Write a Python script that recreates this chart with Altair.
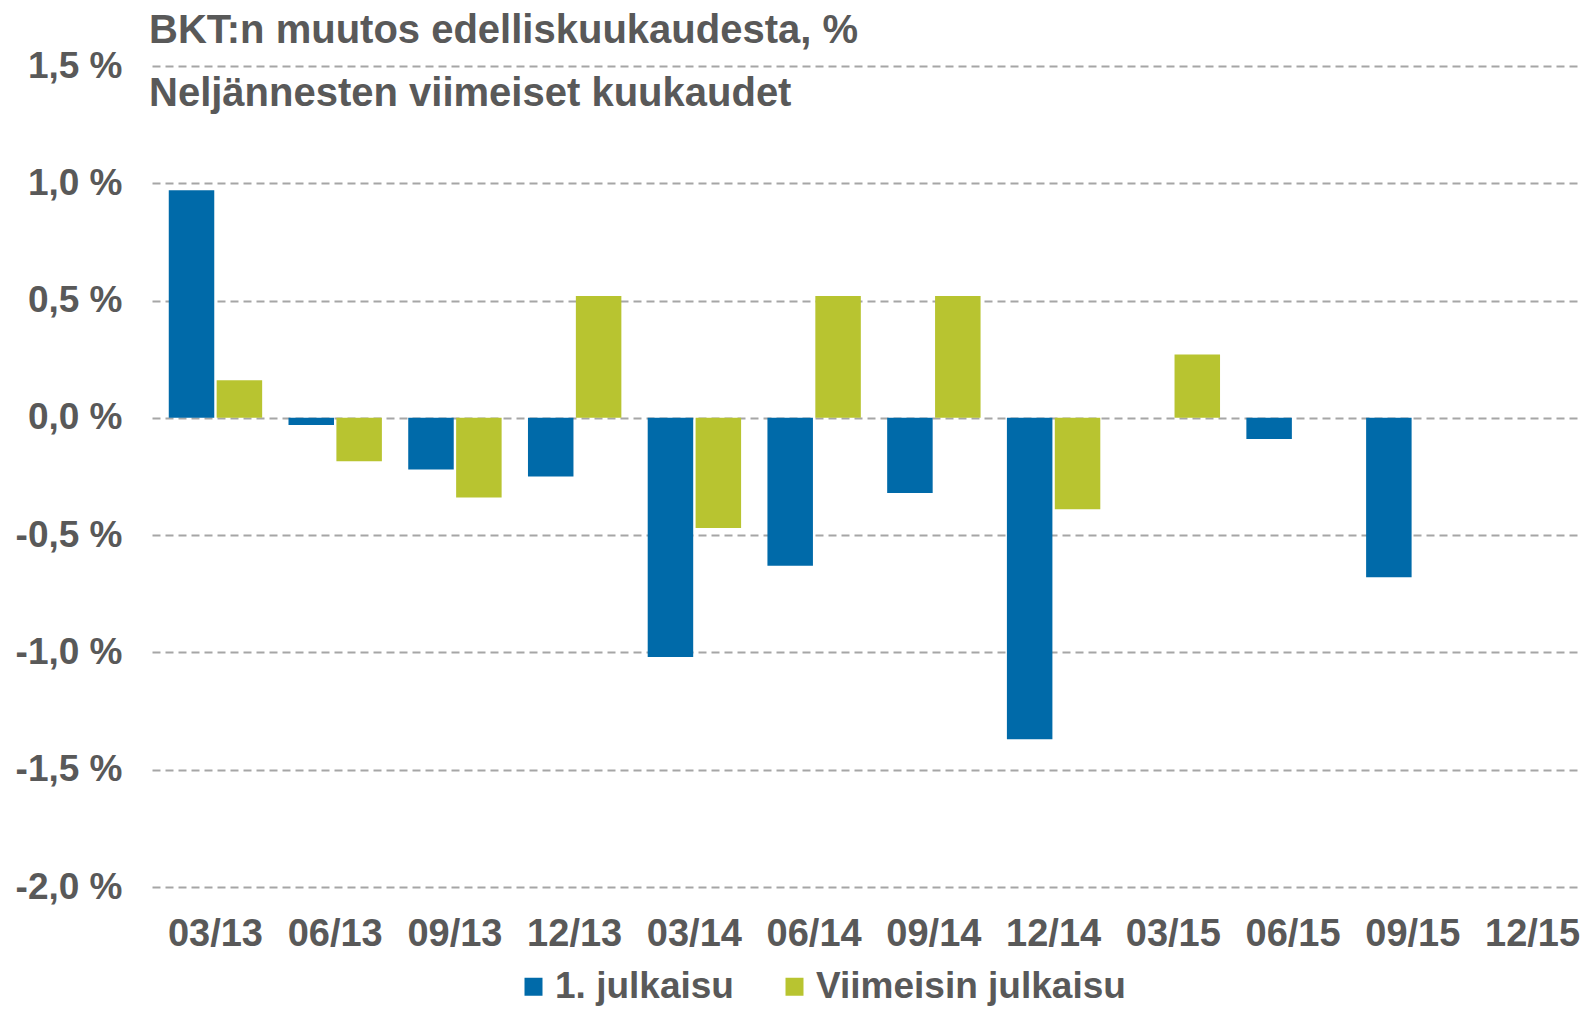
import altair as alt
import pandas as pd

quarters = ["03/13", "06/13", "09/13", "12/13", "03/14", "06/14",
            "09/14", "12/14", "03/15", "06/15", "09/15", "12/15"]
first_release = [0.97, -0.03, -0.22, -0.25, -1.02, -0.63,
                 -0.32, -1.37, None, -0.09, -0.68, None]
latest_release = [0.16, -0.185, -0.34, 0.52, -0.47, 0.52,
                  0.52, -0.39, 0.27, None, None, None]
series_names = ["1. julkaisu", "Viimeisin julkaisu"]
series_colors = ["#006AA9", "#B8C430"]
y_ticks = [-2.0, -1.5, -1.0, -0.5, 0.0, 0.5, 1.0, 1.5]
title_lines = ["BKT:n muutos edelliskuukaudesta, %", "Neljännesten viimeiset kuukaudet"]

rows = []
for q, v in zip(quarters, first_release):
    if v is not None:
        rows.append({"quarter": q, "series": series_names[0], "value": v})
for q, v in zip(quarters, latest_release):
    if v is not None:
        rows.append({"quarter": q, "series": series_names[1], "value": v})
df = pd.DataFrame(rows)

FONT = "Liberation Sans"
TXT = "#595959"

bars = alt.Chart(df).mark_bar().encode(
    x=alt.X("quarter:N", sort=quarters,
            scale=alt.Scale(domain=quarters, range=[0, 1444],
                            paddingInner=0.22, paddingOuter=0.14),
            axis=alt.Axis(title=None, labelAngle=0, domain=False, ticks=False,
                          labelPadding=28, labelFontSize=38, labelFont=FONT,
                          labelFontWeight="bold", labelColor=TXT, grid=False)),
    xOffset=alt.XOffset("series:N", sort=series_names,
                        scale=alt.Scale(domain=series_names, paddingInner=0.05)),
    y=alt.Y("value:Q",
            scale=alt.Scale(domain=[-2.0, 1.5], nice=False),
            axis=alt.Axis(values=y_ticks, title=None,
                          labelExpr="(datum.value < 0 ? '-' : '') + replace(format(abs(datum.value), '.1f'), '.', ',') + ' %'",
                          grid=True, gridDash=[8, 5], gridColor="#A6A6A6", gridWidth=2,
                          domain=False, ticks=False, labelPadding=30,
                          labelFontSize=37, labelFont=FONT, labelFontWeight="bold",
                          labelColor=TXT)),
    color=alt.Color("series:N",
                    scale=alt.Scale(domain=series_names, range=series_colors),
                    legend=alt.Legend(title=None, orient="none", legendX=363, legendY=902,
                                      direction="horizontal", symbolType="square",
                                      symbolSize=324, symbolStrokeWidth=0,
                                      labelFontSize=37, labelFont=FONT, labelLimit=600,
                                      labelFontWeight="bold", labelColor=TXT,
                                      labelOffset=3, columnPadding=42)),
)

title_df = pd.DataFrame({"t": ["\n".join(title_lines)]})
title_text = alt.Chart(title_df).mark_text(
    align="left", baseline="alphabetic", lineBreak="\n", lineHeight=63,
    fontSize=40, fontWeight="bold", font=FONT, color=TXT
).encode(x=alt.value(-3), y=alt.value(-23), text="t:N")

chart = alt.layer(bars, title_text).properties(
    width=1429, height=821,
    autosize=alt.AutoSizeParams(type="none"),
    padding={"left": 144, "top": 58, "right": 0, "bottom": 119},
).configure_view(stroke=None)

chart.save("out.html", embed_options={"renderer": "svg", "actions": False})
